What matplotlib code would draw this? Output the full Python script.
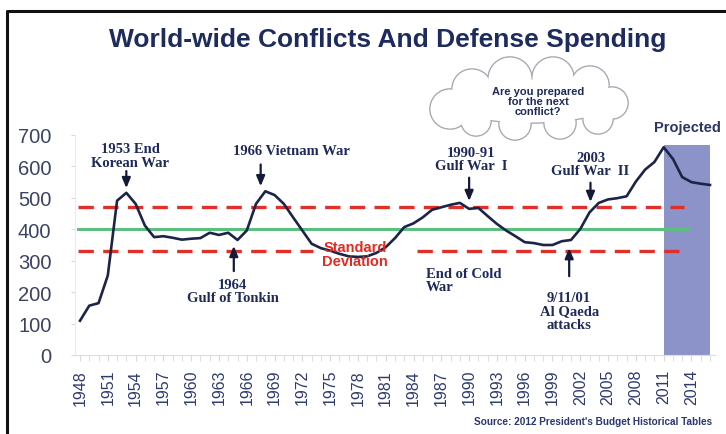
import numpy as np
import matplotlib
matplotlib.use('Agg')
import matplotlib.pyplot as plt
from matplotlib.patches import Ellipse, Circle, Rectangle

# defense outlays (constant dollars, billions)
years = list(range(1948, 2017))
spending = [109, 157, 165, 253, 491, 516, 481, 412, 375, 378,
            373, 367, 370, 372, 389, 382, 389, 366, 396, 481,
            521, 509, 481, 438, 396, 354, 340, 332, 322, 314,
            312, 314, 325, 343, 372, 407, 419, 438, 462, 470,
            478, 484, 465, 468, 442, 417, 396, 378, 359, 356,
            350, 350, 362, 366, 401, 454, 484, 495, 499, 505,
            552, 590, 614, 661, 624, 566, 550, 545, 541]
mean_level = 400
sd_upper = 470
sd_lower = 330
projected_start = 2011
projected_end = 2016
projected_top = 667

navy = '#1f2a5a'
serif = ['Liberation Serif', 'DejaVu Serif']
sans = ['Liberation Sans', 'DejaVu Sans']

fig = plt.figure(figsize=(7.26, 4.35), dpi=100)
ax = fig.add_axes([75 / 726, 79 / 435, 640 / 726, 220 / 435])

ax.add_patch(Rectangle((projected_start, 0), projected_end - projected_start, projected_top,
                       facecolor='#8c93c8', edgecolor='none', zorder=1))
ax.plot([1947.8, 2013.6], [mean_level, mean_level], color='#5cbf7f', lw=2.2, zorder=2)
dash = dict(color='#e0302a', lw=2.4, dashes=(4.6, 2.8), zorder=2)
ax.plot([1947.8, 2013.2], [sd_upper, sd_upper], **dash)
ax.plot([1947.8, 1973.2], [sd_lower, sd_lower], **dash)
ax.plot([1984.4, 2012.9], [sd_lower, sd_lower], **dash)
ax.plot(years, spending, color='#1c2447', lw=1.9, zorder=3)

ax.set_xlim(1947.46, 2016.54)
ax.set_ylim(0, 700)
ax.set_yticks(range(0, 701, 100))
ax.set_xticks(range(1948, 2015, 3))
ax.set_xticks(range(1948, 2017), minor=True)
ax.tick_params(axis='y', labelsize=14.5, colors='#d8d8e0', labelcolor='#3b4262',
               length=3, pad=14)
ax.tick_params(axis='x', which='both', labelsize=11.5, colors='#d8d8e0',
               labelcolor='#2e3a6e', length=4, pad=6)
for lab in ax.get_xticklabels():
    lab.set_rotation(90)
for lab in ax.get_xticklabels() + ax.get_yticklabels():
    lab.set_family(sans)
for s in ['top', 'right']:
    ax.spines[s].set_visible(False)
ax.spines['left'].set_color('#ececf0')
ax.spines['bottom'].set_color('#dcdce4')
ax.patch.set_alpha(0)


def arrow(x, y0, y1):
    ax.annotate('', xy=(x, y1), xytext=(x, y0),
                arrowprops=dict(arrowstyle='-|>,head_width=0.25,head_length=0.6',
                                color='#141a38', lw=1.6), zorder=4)


txt = dict(family=serif, weight='bold', color=navy, fontsize=10.5,
           ha='center', va='center', linespacing=1.05, zorder=5)
ax.text(1953.4, 634, '1953 End\nKorean War', **txt)
arrow(1953, 594, 522)
ax.text(1970.8, 650, '1966 Vietnam War', **txt)
arrow(1967.5, 615, 528)
ax.text(1964.5, 204, '1964\nGulf of Tonkin', **txt)
arrow(1964.6, 258, 356)
ax.text(1990.2, 624, '1990-91\nGulf War  I', **txt)
arrow(1990.0, 573, 481)
ax.text(2003.1, 608, '2003\nGulf War  II', **txt)
arrow(2003.1, 557, 478)
ax.text(2000.8, 140, '9/11/01\nAl Qaeda\nattacks', **txt)
arrow(2000.8, 242, 349)
ax.text(1985.3, 239, 'End of Cold\nWar', **dict(txt, ha='left'))
ax.text(1977.7, 322, 'Standard\nDeviation', family=sans, weight='bold', color='#e32b22',
        fontsize=10.5, ha='center', va='center', linespacing=1.0, zorder=5)
ax.text(2013.6, 726, 'Projected', family=sans, weight='bold', color='#2b3566',
        fontsize=10.5, ha='center', va='center', clip_on=False)

# overlay in pixel coordinates for title, cloud, border, source
ov = fig.add_axes([0, 0, 1, 1], zorder=-1)
ov.set_xlim(0, 726)
ov.set_ylim(435, 0)
ov.axis('off')
ov.plot([7, 7, 726], [435, 12, 12], color='#111111', lw=2.2)

ov2 = fig.add_axes([0, 0, 1, 1], zorder=5)
ov2.set_xlim(0, 726)
ov2.set_ylim(435, 0)
ov2.axis('off')
ov2.patch.set_alpha(0)
ov2.text(388, 40, 'World-wide Conflicts And Defense Spending', family=sans,
         weight='bold', fontsize=19, color='#1d2b5e', ha='center', va='center')
ov2.text(712, 422, "Source: 2012 President's Budget Historical Tables",
         family=['Liberation Sans Narrow', 'Liberation Sans', 'DejaVu Sans'],
         weight='bold', fontsize=7.2, color='#2a3770', ha='right', va='center')

bumps = [(450, 110, 20), (472, 90, 20), (510, 80, 22), (553, 79, 21),
         (590, 86, 19), (612, 104, 16), (598, 120, 15), (560, 124, 16),
         (515, 125, 16), (476, 122, 15)]
cloud_edge = '#a9a9b3'
for cx, cy, r in bumps:
    ov2.add_patch(Circle((cx, cy), r, facecolor='white', edgecolor=cloud_edge, lw=1.2))
ov2.add_patch(Ellipse((530, 102), 170, 44, facecolor='white', edgecolor=cloud_edge, lw=1.2))
for cx, cy, r in bumps:
    ov2.add_patch(Circle((cx, cy), r - 0.6, facecolor='white', edgecolor='none'))
ov2.add_patch(Ellipse((530, 102), 168.8, 42.8, facecolor='white', edgecolor='none'))
ov2.text(538, 102, 'Are you prepared\nfor the next\nconflict?', family=sans, weight='bold',
         fontsize=8, color='#1f2a5a', ha='center', va='center', linespacing=1.0)

fig.savefig('out.png', dpi=100)
